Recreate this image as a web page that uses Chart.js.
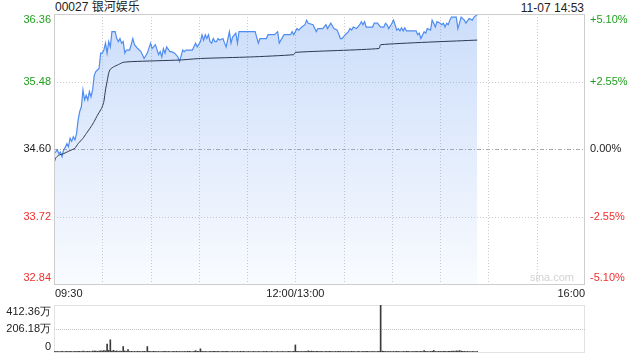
<!DOCTYPE html>
<html>
<head>
<meta charset="utf-8">
<script src="https://cdn.jsdelivr.net/npm/chart.js@4.4.0/dist/chart.umd.min.js"></script>
<style>
    body { margin: 0; background: #fff; width: 640px; height: 360px; overflow: hidden; position: relative;
           font-family: 'Liberation Sans', Arial, 'Noto Sans CJK SC', sans-serif; }
    #title { position: absolute; left: 55px; top: 0; font-size: 12px; line-height: 15px; color: #222; }
    #stamp { position: absolute; right: 56px; top: 0; font-size: 12px; line-height: 16px; color: #222; }
    #priceChart { position: absolute; left: 0; top: 0; }
    #volChart { position: absolute; left: 0; top: 296px; }
</style>
</head>
<body>
<div id="title">00027 银河娱乐</div>
<div id="stamp">11-07 14:53</div>
<canvas id="priceChart" width="640" height="300"></canvas>
<canvas id="volChart" width="640" height="64"></canvas>

<script>
// minutes since 09:30 (lunch break removed), 330 = 16:00
let prevClose = 34.60;
let priceTicks = [32.84, 33.72, 34.60, 35.48, 36.36];
let pctLabels = ["-5.10%", "-2.55%", "0.00%", "+2.55%", "+5.10%"];
let gridMinutes = [30, 60, 90, 120, 150, 180, 210, 240, 270, 300];
let timeLabels = ["09:30", "12:00/13:00", "16:00"];
let timeLabelMinutes = [0, 150, 330];

let priceMinutes = [
    0, 1, 2, 3, 4, 5, 6, 7, 8, 9,
    10, 11, 12, 13, 14, 15, 16, 17, 18, 19,
    20, 21, 22, 23, 24, 25, 26, 27, 28, 29,
    30, 31, 32, 33, 34, 35, 36, 38, 39, 40,
    41, 42, 43, 44, 45, 47, 49, 50, 52, 54,
    56, 58, 60, 61, 63, 65, 66, 67, 68, 69,
    70, 72, 73, 75, 77, 78, 80, 81, 82, 86,
    88, 89, 91, 92, 93, 94, 95, 96, 97, 98,
    99, 100, 101, 102, 103, 105, 106, 107, 109, 110,
    111, 113, 114, 115, 122, 125, 127, 128, 132, 133,
    137, 139, 140, 141, 143, 147, 148, 149, 150, 151,
    152, 154, 156, 157, 158, 161, 163, 164, 167, 169,
    170, 172, 174, 176, 178, 179, 181, 183, 184, 185,
    186, 188, 190, 191, 192, 193, 194, 198, 199, 201,
    203, 205, 206, 207, 208, 210, 211, 213, 214, 215,
    216, 217, 218, 219, 225, 226, 227, 228, 230, 231,
    232, 234, 235, 236, 237, 238, 240, 241, 242, 243,
    244, 245, 246, 247, 250, 251, 252, 253, 254, 255,
    256, 258, 260, 261, 263
];
let prices = [
    34.54, 34.56, 34.59, 34.54, 34.56, 34.50, 34.59, 34.62, 34.67, 34.63,
    34.74, 34.70, 34.76, 34.72, 34.80, 34.98, 35.09, 35.15, 35.37, 35.24,
    35.30, 35.24, 35.35, 35.28, 35.37, 35.56, 35.61, 35.63, 35.65, 35.85,
    35.85, 35.89, 35.98, 35.85, 36.00, 35.93, 36.13, 36.13, 36.04, 36.00,
    36.04, 35.98, 36.00, 35.85, 35.89, 35.89, 36.04, 35.96, 35.91, 35.87,
    35.78, 35.85, 35.98, 35.91, 35.96, 35.83, 35.87, 35.80, 35.91, 35.85,
    35.93, 35.87, 35.87, 35.85, 35.80, 35.74, 35.89, 35.87, 35.89, 35.89,
    35.98, 35.93, 36.00, 36.09, 36.02, 36.09, 36.04, 36.09, 36.00, 35.98,
    36.04, 36.00, 36.00, 36.04, 36.02, 36.04, 35.98, 35.93, 36.13, 35.98,
    36.06, 36.11, 35.98, 36.13, 36.13, 36.13, 35.98, 36.04, 36.04, 36.09,
    36.09, 36.13, 35.98, 36.02, 36.09, 36.09, 36.13, 36.09, 36.13, 36.17,
    36.15, 36.19, 36.22, 36.28, 36.24, 36.22, 36.13, 36.17, 36.17, 36.22,
    36.17, 36.24, 36.17, 36.15, 36.04, 36.04, 36.09, 36.13, 36.17, 36.15,
    36.19, 36.17, 36.22, 36.26, 36.22, 36.26, 36.19, 36.19, 36.24, 36.24,
    36.19, 36.19, 36.24, 36.22, 36.17, 36.24, 36.28, 36.15, 36.17, 36.14,
    36.18, 36.14, 36.18, 36.14, 36.14, 36.09, 36.11, 36.04, 36.13, 36.11,
    36.17, 36.15, 36.28, 36.24, 36.19, 36.26, 36.24, 36.22, 36.24, 36.19,
    36.24, 36.22, 36.28, 36.32, 36.32, 36.17, 36.24, 36.32, 36.30, 36.28,
    36.24, 36.30, 36.28, 36.32, 36.35
];

// average price line
let avgMinutes = [0, 1, 3, 6, 10, 13, 15, 18, 20, 23, 25, 27, 29, 30, 31, 32, 33, 34, 35, 37,
                  40, 43, 49, 78, 91, 122, 149, 150, 202, 203, 263];
let avgPrices = [34.41, 34.48, 34.52, 34.54, 34.58, 34.61, 34.67, 34.74, 34.80, 34.89,
                 34.96, 35.04, 35.11, 35.15, 35.22, 35.37, 35.48, 35.59, 35.64, 35.67,
                 35.70, 35.73, 35.74, 35.76, 35.78, 35.80, 35.83, 35.86, 35.91, 35.96, 36.02];

// volume per minute, in 万 shares (minutes 0..263)
let volumes = [
    6, 4, 5, 3, 4, 5, 3, 4, 6, 4, 5, 4, 3, 5, 4, 6, 5, 4, 7, 5, 4, 6, 5, 4, 8, 9, 7, 6, 8, 10,
    9, 12, 10, 70, 14, 107, 8, 15, 6, 10, 5, 7, 6, 48, 9, 6, 22, 5, 6, 4, 5, 4, 6, 5, 4, 5, 6, 4, 48, 6,
    5, 4, 6, 5, 4, 5, 3, 4, 5, 6, 4, 5, 4, 3, 5, 4, 6, 4, 5, 3, 4, 5, 4, 6, 5, 4, 3, 5, 12, 6,
    5, 28, 6, 4, 5, 4, 3, 5, 4, 6, 5, 4, 5, 3, 4, 5, 4, 6, 5, 3, 4, 5, 4, 3, 5, 4, 6, 4, 5, 3,
    4, 5, 3, 4, 5, 4, 3, 5, 4, 3, 5, 4, 6, 4, 3, 5, 4, 3, 4, 5, 3, 4, 5, 4, 3, 4, 5, 4, 3, 6,
    62, 6, 5, 4, 5, 4, 6, 5, 10, 6, 8, 5, 4, 6, 5, 4, 5, 4, 3, 5, 4, 6, 5, 4, 3, 5, 4, 6, 5, 4,
    5, 4, 3, 5, 4, 6, 5, 4, 3, 5, 4, 3, 5, 4, 6, 5, 4, 3, 5, 4, 3, 5, 6, 412.36, 8, 6, 5, 4, 5, 4,
    3, 5, 4, 6, 5, 4, 3, 5, 4, 6, 5, 4, 3, 5, 4, 6, 5, 4, 5, 4, 12, 6, 5, 4, 5, 6, 14, 5, 4, 6,
    5, 4, 6, 5, 4, 6, 5, 7, 9, 6, 10, 7, 12, 8, 6, 5, 4, 5, 4, 3, 5, 4, 3, 5
];
let volTicks = [0, 206.18, 412.36];
let volLabels = ["0", "206.18万", "412.36万"];

let labelFont = "11px 'Liberation Sans', Arial, sans-serif";
let green = "#1f9e1f";
let red = "#ee2f2f";

function hline(ctx, x1, x2, y) {
    ctx.beginPath();
    ctx.moveTo(x1, y);
    ctx.lineTo(x2, y);
    ctx.stroke();
}
function vline(ctx, x, y1, y2) {
    ctx.beginPath();
    ctx.moveTo(x, y1);
    ctx.lineTo(x, y2);
    ctx.stroke();
}

// grid, frame and labels of the price panel
const priceFrame = {
    id: "priceFrame",
    beforeDatasetsDraw(chart) {
        const { ctx, chartArea: a, scales: { x, y } } = chart;
        ctx.save();
        ctx.lineWidth = 1;
        ctx.strokeStyle = "#cccccc";
        ctx.setLineDash([1, 2]);
        gridMinutes.forEach(m => {
            let px = Math.round(x.getPixelForValue(m)) + 0.5;
            vline(ctx, px, a.top, a.bottom);
        });
        priceTicks.forEach(v => {
            if (v === priceTicks[0] || v === priceTicks[priceTicks.length - 1]) return;
            let py = Math.round(y.getPixelForValue(v)) + 0.5;
            if (v === prevClose) {
                ctx.strokeStyle = "#aaaaaa";
                ctx.setLineDash([4, 2, 1, 2]);
            } else {
                ctx.strokeStyle = "#cccccc";
                ctx.setLineDash([1, 2]);
            }
            hline(ctx, a.left, a.right, py);
        });
        ctx.restore();
    },
    afterDraw(chart) {
        const { ctx, chartArea: a, scales: { x, y } } = chart;
        ctx.save();
        ctx.strokeStyle = "#cdcdcd";
        ctx.lineWidth = 1;
        ctx.strokeRect(a.left + 0.5, a.top + 0.5, a.right - a.left - 1, a.bottom - a.top);

        ctx.font = labelFont;
        ctx.textBaseline = "middle";
        priceTicks.forEach((v, i) => {
            let py = y.getPixelForValue(v);
            if (i === 0) py -= 6;
            if (i === priceTicks.length - 1) py += 6;
            ctx.fillStyle = v > prevClose ? green : (v < prevClose ? red : "#222");
            ctx.textAlign = "right";
            ctx.fillText(v.toFixed(2), a.left - 3, py);
            ctx.textAlign = "left";
            ctx.fillText(pctLabels[i], a.right + 5, py);
        });

        ctx.fillStyle = "#222";
        timeLabels.forEach((t, i) => {
            let px = x.getPixelForValue(timeLabelMinutes[i]);
            ctx.textAlign = i === 0 ? "left" : (i === timeLabels.length - 1 ? "right" : "center");
            ctx.fillText(t, px + (i === 0 ? 1 : 0), a.bottom + 10);
        });

        ctx.fillStyle = "#d2d2d2";
        ctx.textAlign = "right";
        ctx.fillText("sina.com", a.right - 11, a.bottom - 6);
        ctx.restore();
    }
};

const volFrame = {
    id: "volFrame",
    beforeDatasetsDraw(chart) {
        const { ctx, chartArea: a, scales: { y } } = chart;
        ctx.save();
        ctx.strokeStyle = "#c4c4c4";
        ctx.lineWidth = 1;
        ctx.setLineDash([1, 1]);
        ctx.strokeRect(a.left + 0.5, a.top + 0.5, a.right - a.left - 1, a.bottom - a.top);
        hline(ctx, a.left, a.right, Math.round(y.getPixelForValue(volTicks[1])) + 0.5);
        ctx.restore();
    },
    afterDraw(chart) {
        const { ctx, chartArea: a, scales: { y } } = chart;
        ctx.save();
        ctx.font = labelFont;
        ctx.fillStyle = "#222";
        ctx.textAlign = "right";
        ctx.textBaseline = "middle";
        volTicks.forEach((v, i) => {
            let py = y.getPixelForValue(v);
            if (i === 0) py -= 5;
            if (i === volTicks.length - 1) py += 7;
            ctx.fillText(volLabels[i], a.left - 3, py);
        });
        ctx.restore();
    }
};

let priceChart = new Chart(document.getElementById("priceChart"), {
    type: "line",
    data: {
        datasets: [
            {
                label: "价格",
                data: priceMinutes.map((m, i) => ({ x: m, y: prices[i] })),
                borderColor: "#4f8cf0",
                borderWidth: 1.2,
                pointRadius: 0,
                tension: 0,
                fill: "start",
                order: 1,
                backgroundColor: (c) => {
                    let area = c.chart.chartArea;
                    if (!area) return "rgba(96,150,240,0.2)";
                    let g = c.chart.ctx.createLinearGradient(0, area.top, 0, area.bottom);
                    g.addColorStop(0, "rgba(96,150,240,0.32)");
                    g.addColorStop(1, "rgba(96,150,240,0.04)");
                    return g;
                }
            },
            {
                label: "均价",
                data: avgMinutes.map((m, i) => ({ x: m, y: avgPrices[i] })),
                borderColor: "#2b3850",
                borderWidth: 1,
                pointRadius: 0,
                tension: 0.2,
                fill: false,
                order: 0
            }
        ]
    },
    options: {
        responsive: false,
        animation: false,
        devicePixelRatio: 1,
        layout: { padding: { left: 54, right: 55, top: 14, bottom: 16 } },
        scales: {
            x: { type: "linear", min: 0, max: 330, display: false },
            y: { min: priceTicks[0], max: priceTicks[priceTicks.length - 1], display: false }
        },
        plugins: { legend: { display: false }, tooltip: { enabled: false } }
    },
    plugins: [priceFrame]
});

let volChart = new Chart(document.getElementById("volChart"), {
    type: "bar",
    data: {
        datasets: [{
            label: "成交量",
            data: volumes.map((v, i) => ({ x: i, y: v })),
            backgroundColor: "#3a3a3a",
            barThickness: 1,
            grouped: false
        }]
    },
    options: {
        responsive: false,
        animation: false,
        devicePixelRatio: 1,
        layout: { padding: { left: 54, right: 55, top: 9, bottom: 8 } },
        scales: {
            x: { type: "linear", min: 0, max: 330, offset: false, display: false },
            y: { min: 0, max: volTicks[2], display: false }
        },
        plugins: { legend: { display: false }, tooltip: { enabled: false } }
    },
    plugins: [volFrame]
});
</script>
</body>
</html>
